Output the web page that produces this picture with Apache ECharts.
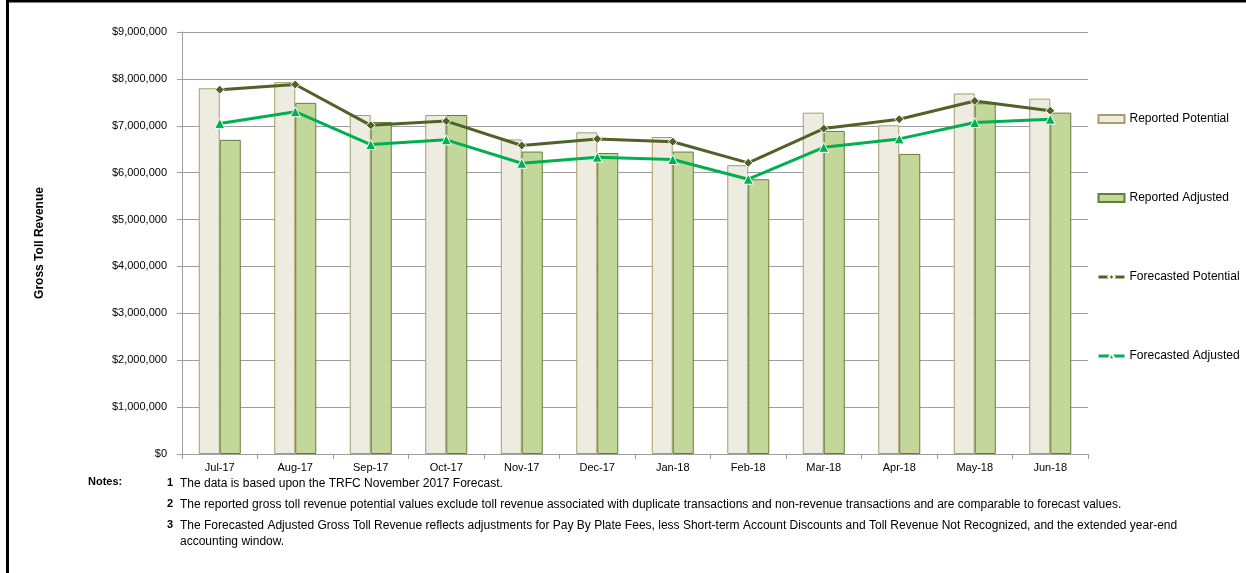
<!DOCTYPE html>
<html>
<head>
<meta charset="utf-8">
<script src="https://cdn.jsdelivr.net/npm/echarts@6/dist/echarts.min.js"></script>
<style>html,body{margin:0;padding:0;background:#fff;}#c{width:1246px;height:573px;}</style>
</head>
<body>
<div id="c"></div>
<script>
const categories = ['Jul-17','Aug-17','Sep-17','Oct-17','Nov-17','Dec-17','Jan-18','Feb-18','Mar-18','Apr-18','May-18','Jun-18'];
const reportedPotential = [7800000,7930000,7230000,7230000,6710000,6860000,6760000,6160000,7280000,7010000,7690000,7580000];
const reportedAdjusted  = [6700000,7490000,7080000,7230000,6450000,6420000,6450000,5860000,6890000,6400000,7480000,7280000];
const forecastedPotential = [7770000,7880000,7010000,7100000,6580000,6720000,6660000,6210000,6940000,7140000,7530000,7320000];
const forecastedAdjusted  = [7050000,7300000,6600000,6700000,6200000,6330000,6280000,5860000,6540000,6720000,7070000,7140000];
const yTicks = {min:0, max:9000000, interval:1000000};
const notes = [
  ['1','The data is based upon the TRFC November 2017 Forecast.'],
  ['2','The reported gross toll revenue potential values exclude toll revenue associated with duplicate transactions and non-revenue transactions and are comparable to forecast values.'],
  ['3','The Forecasted Adjusted Gross Toll Revenue reflects adjustments for Pay By Plate Fees, less Short-term Account Discounts and Toll Revenue Not Recognized, and the extended year-end\naccounting window.']
];

const FONT = '"Liberation Sans", Arial, sans-serif';
const chart = echarts.init(document.getElementById('c'), null, {renderer:'canvas'});

const noteGraphics = [
  {type:'text', left:88, top:476, style:{text:'Notes:', font:'bold 11px ' + FONT, fill:'#000'}}
];
const noteTops = [476, 497, 518];
notes.forEach((n, i) => {
  noteGraphics.push({type:'text', left:167, top:noteTops[i]+1, style:{text:n[0], font:'bold 11px ' + FONT, fill:'#000'}});
  noteGraphics.push({type:'text', left:180, top:noteTops[i], style:{text:n[1], font:'12px ' + FONT, fill:'#000', lineHeight:16, width:1060}});
});

function fmt(v){ return '$' + v.toLocaleString('en-US'); }

chart.setOption({
  animation:false,
  backgroundColor:'#fff',
  grid:{left:182, right:158, top:32, bottom:119, containLabel:false},
  legend:{
    orient:'vertical', left:1092, top:108, itemWidth:26, itemHeight:8, itemGap:67,
    textStyle:{fontFamily:FONT, fontSize:12, color:'#000'},
    data:[
      {name:'Reported Potential', icon:'rect'},
      {name:'Reported Adjusted', icon:'rect'},
      {name:'Forecasted Potential', lineStyle:{width:3}},
      {name:'Forecasted Adjusted', lineStyle:{width:3}}
    ]
  },
  xAxis:{
    type:'category', data:categories,
    axisLine:{show:true, lineStyle:{color:'#9e9e9e', width:1}},
    axisTick:{show:true, length:5, lineStyle:{color:'#9e9e9e'}},
    axisLabel:{fontFamily:FONT, fontSize:11, color:'#000', margin:8}
  },
  yAxis:{
    type:'value', min:yTicks.min, max:yTicks.max, interval:yTicks.interval,
    name:'Gross Toll Revenue', nameLocation:'middle', nameGap:136, nameRotate:90,
    nameTextStyle:{fontFamily:FONT, fontSize:12, fontWeight:'bold', color:'#000'},
    axisLine:{show:true, lineStyle:{color:'#9e9e9e', width:1}},
    axisTick:{show:true, length:5, lineStyle:{color:'#9e9e9e'}},
    axisLabel:{fontFamily:FONT, fontSize:11, color:'#000', margin:15, formatter:fmt},
    splitLine:{show:true, lineStyle:{color:'#9e9e9e', width:1}}
  },
  series:[
    {name:'Reported Potential', type:'bar', data:reportedPotential, barWidth:21, barGap:'0%',
      itemStyle:{color:'#eeebe0', borderColor:'#a79d68', borderWidth:1}},
    {name:'Reported Adjusted', type:'bar', data:reportedAdjusted, barWidth:21, barGap:'0%',
      itemStyle:{color:'#c4d79b', borderColor:'#667d38', borderWidth:1}},
    {name:'Forecasted Potential', type:'line', data:forecastedPotential, symbol:'diamond', symbolSize:9,
      lineStyle:{color:'#4f6228', width:3}, itemStyle:{color:'#4f6228', borderColor:'#fff', borderWidth:1}},
    {name:'Forecasted Adjusted', type:'line', data:forecastedAdjusted, symbol:'triangle', symbolSize:10,
      lineStyle:{color:'#00b050', width:3}, itemStyle:{color:'#00b050', borderColor:'#fff', borderWidth:1}}
  ],
  graphic:[
    {type:'line', shape:{x1:6, y1:1, x2:1246, y2:1}, style:{stroke:'#000', lineWidth:3}},
    {type:'line', shape:{x1:7.5, y1:0, x2:7.5, y2:573}, style:{stroke:'#000', lineWidth:3}}
  ].concat(noteGraphics)
});
</script>
</body>
</html>
